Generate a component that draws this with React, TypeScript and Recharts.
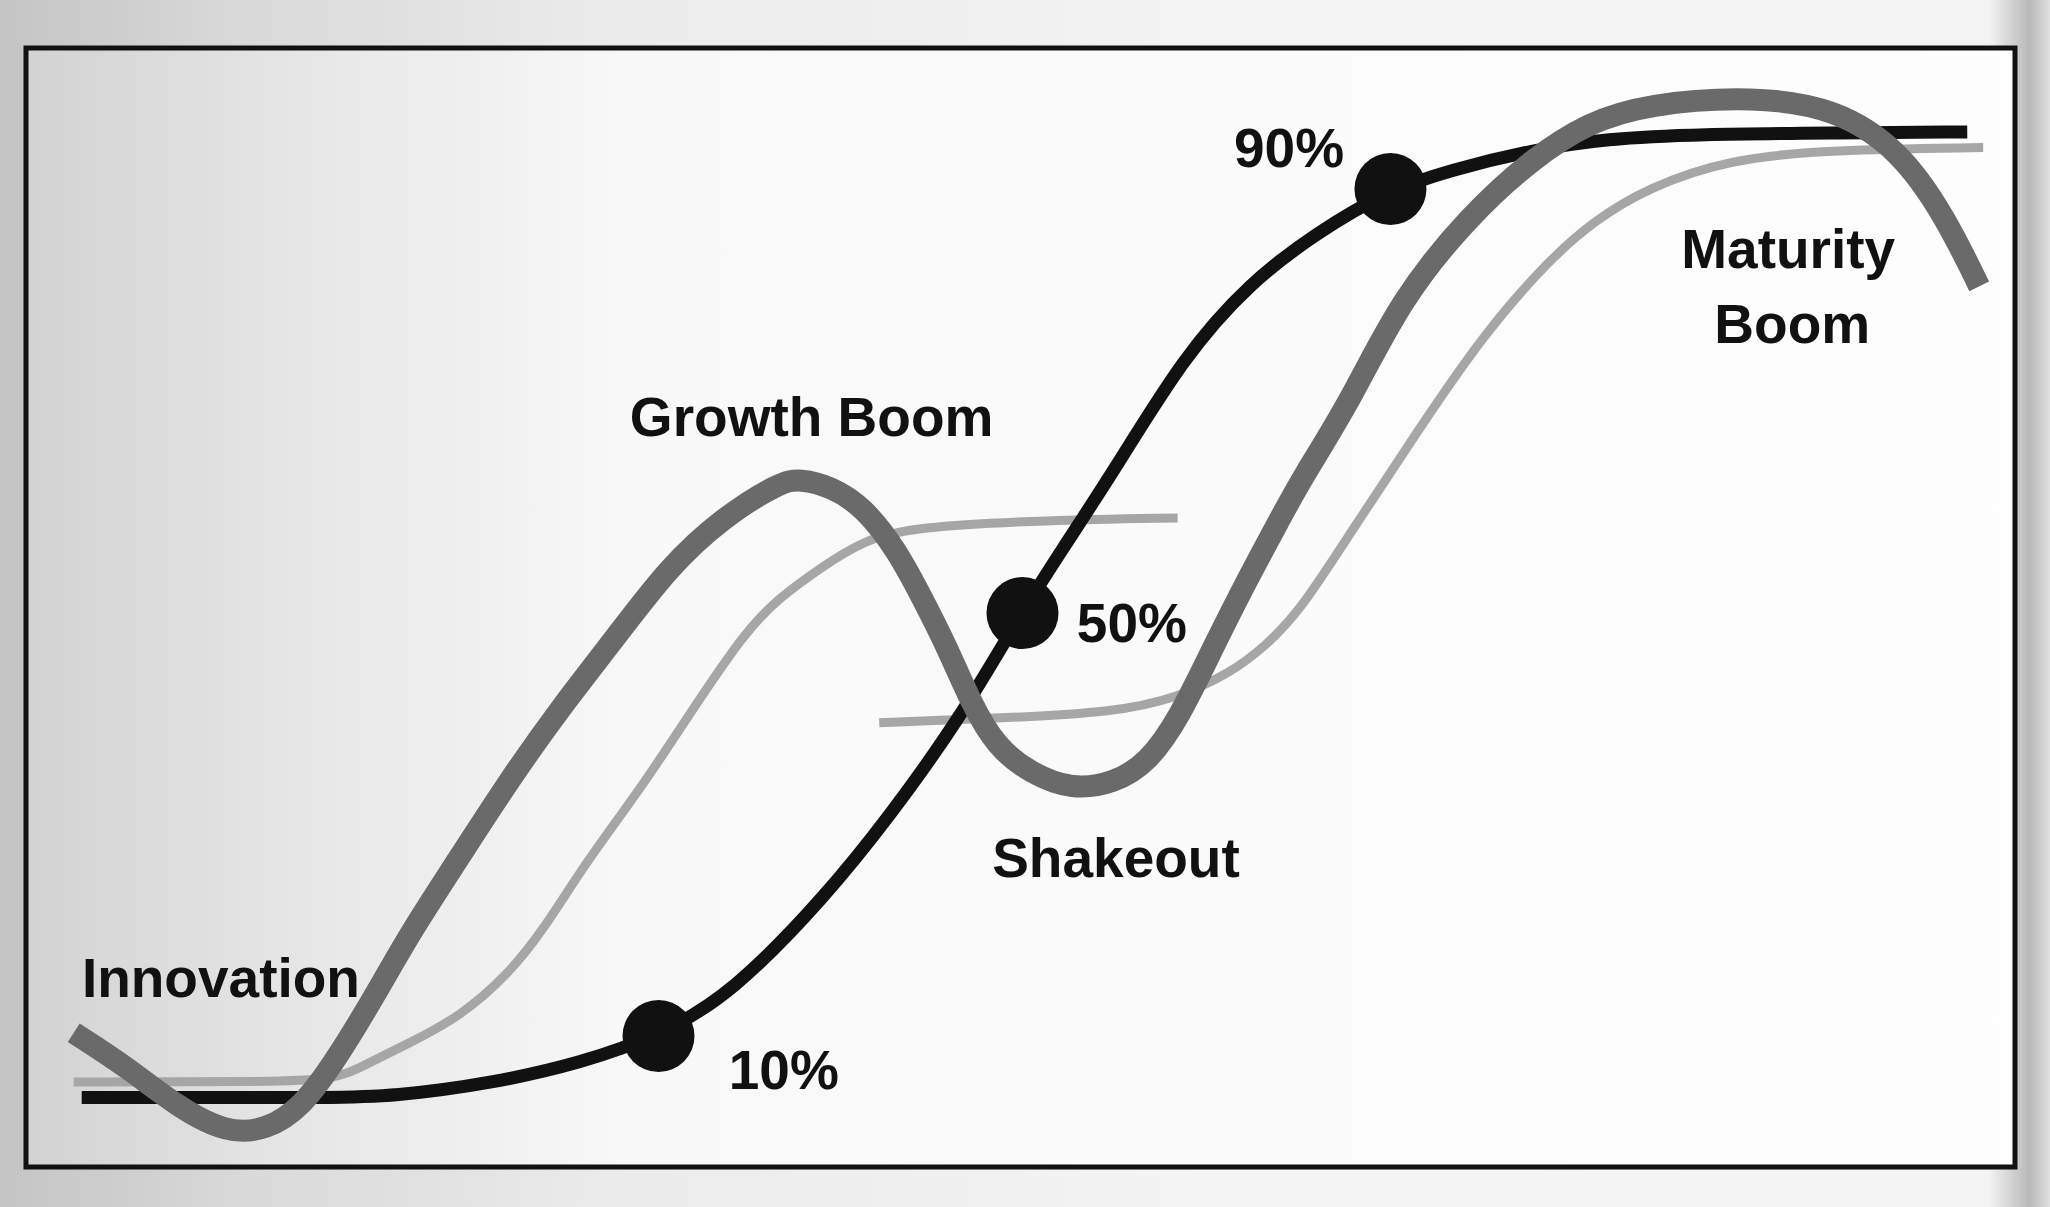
import { ComposedChart, Line, Scatter, XAxis, YAxis, ReferenceArea } from 'recharts';

// x: time across the frame (0-100), y: level (0-100, bottom to top)
const adoptionCurve = [
  [2.8, 6.2], [10.0, 6.2], [15.0, 6.2], [18.5, 6.3], [23.5, 7.5], [27.9, 9.3],
  [31.8, 11.7], [35.5, 15.5], [40.2, 24.2], [43.4, 31.3], [47.0, 40.2], [50.0, 49.4],
  [52.1, 55.2], [54.8, 62.5], [58.2, 72.4], [61.5, 79.0], [64.9, 83.5], [68.4, 87.2],
  [71.6, 89.1], [75.8, 90.9], [79.4, 91.9], [84.2, 92.3], [90.7, 92.4], [97.6, 92.5],
];

const boomBustWave = [
  [2.4, 12.0], [5.1, 8.9], [7.6, 5.4], [10.1, 3.0], [12.1, 3.3], [13.9, 5.4],
  [15.6, 9.6], [17.7, 15.8], [19.3, 20.9], [21.8, 27.7], [24.3, 34.6], [26.9, 41.1],
  [29.5, 47.0], [32.3, 53.6], [35.0, 58.0], [37.9, 61.2], [38.9, 61.5], [40.5, 60.8],
  [42.1, 59.0], [43.8, 55.1], [45.1, 50.7], [46.3, 46.5], [47.5, 41.5], [48.8, 37.5],
  [50.5, 35.2], [52.6, 33.7], [54.7, 34.3], [56.4, 36.1], [58.0, 40.2], [59.7, 46.5],
  [61.4, 52.5], [63.1, 58.1], [64.1, 61.4], [66.6, 68.5], [69.1, 77.5], [72.5, 84.9],
  [75.8, 90.2], [78.5, 93.3], [81.5, 95.0], [86.9, 95.7], [91.0, 94.6], [94.2, 90.9],
  [96.5, 84.9], [98.2, 78.7],
];

const firstWave = [
  [2.4, 7.6], [12.0, 7.6], [15.5, 7.8], [16.8, 8.9], [19.3, 11.1], [21.8, 13.4],
  [24.3, 17.3], [26.0, 21.2], [27.9, 26.5], [29.6, 30.7], [31.3, 34.9], [33.0, 39.5],
  [36.2, 48.0], [37.9, 50.9], [40.0, 53.6], [42.1, 56.0], [44.6, 57.2], [51.3, 57.8],
  [57.9, 58.0],
];

const secondWave = [
  [42.9, 39.7], [48.7, 40.1], [54.7, 40.6], [58.0, 42.0], [60.5, 44.1], [62.3, 46.5],
  [64.1, 49.8], [66.6, 56.7], [69.9, 65.6], [73.3, 74.5], [76.6, 81.1], [78.8, 84.5],
  [81.5, 87.5], [85.7, 90.1], [90.7, 90.9], [98.4, 91.1],
];

const milestones = [
  [31.8, 11.7, '10%'],
  [50.1, 49.5, '50%'],
  [68.6, 87.4, '90%'],
];

const stageLabels = [
  [9.8, 15.2, 'Innovation'],
  [39.5, 65.3, 'Growth Boom'],
  [54.8, 25.9, 'Shakeout'],
  [88.6, 80.3, 'Maturity'],
  [88.8, 73.6, 'Boom'],
];

const milestoneLabels = [
  [38.1, 7.0, '10%'],
  [55.6, 46.9, '50%'],
  [63.5, 89.4, '90%'],
];

const toPoints = (rows: (number | string)[][]) =>
  rows.map(([x, y, text]) => ({ x: x as number, y: y as number, text: text as string }));

const FONT = '"Liberation Sans", Arial, sans-serif';

const renderDot = (p: any) => <circle cx={p.cx} cy={p.cy} r={36} fill="#111" />;

const renderText = (p: any) => (
  <text
    x={p.cx}
    y={p.cy}
    textAnchor="middle"
    fontFamily={FONT}
    fontWeight="bold"
    fontSize={55}
    fill="#111"
  >
    {p.payload.text}
  </text>
);

export default function App() {
  return (
    <div
      style={{
        position: 'absolute',
        left: 0,
        top: 0,
        width: 2050,
        height: 1207,
        background:
          'linear-gradient(90deg, #c4c4c4 0%, #d9d9d9 12%, #ebebeb 30%, #f4f4f4 60%, #f3f3f3 97%, #b9b9b9 99%, #e0e0e0 100%)',
      }}
    >
      <ComposedChart
        width={2050}
        height={1207}
        margin={{ top: 48, left: 26, right: 35, bottom: 40 }}
      >
        <defs>
          <linearGradient id="scan" x1="0" y1="0" x2="1" y2="0">
            <stop offset="0%" stopColor="#d2d2d2" />
            <stop offset="12%" stopColor="#e4e4e4" />
            <stop offset="30%" stopColor="#f8f8f8" />
            <stop offset="100%" stopColor="#fefefe" />
          </linearGradient>
        </defs>
        <XAxis type="number" dataKey="x" domain={[0, 100]} hide allowDataOverflow />
        <YAxis type="number" domain={[0, 100]} hide allowDataOverflow />
        <ReferenceArea
          x1={0}
          x2={100}
          y1={0}
          y2={100}
          fill="url(#scan)"
          fillOpacity={1}
          stroke="#111"
          strokeWidth={5}
        />
        <Line
          data={toPoints(firstWave)}
          dataKey="y"
          type="basis"
          stroke="#a6a6a6"
          strokeWidth={9}
          dot={false}
          activeDot={false}
          isAnimationActive={false}
        />
        <Line
          data={toPoints(secondWave)}
          dataKey="y"
          type="basis"
          stroke="#a6a6a6"
          strokeWidth={9}
          dot={false}
          activeDot={false}
          isAnimationActive={false}
        />
        <Line
          data={toPoints(adoptionCurve)}
          dataKey="y"
          type="basis"
          stroke="#111"
          strokeWidth={13}
          dot={false}
          activeDot={false}
          isAnimationActive={false}
        />
        <Line
          data={toPoints(boomBustWave)}
          dataKey="y"
          type="basis"
          stroke="#6a6a6a"
          strokeWidth={22}
          dot={false}
          activeDot={false}
          isAnimationActive={false}
        />
        <Scatter data={toPoints(milestones)} dataKey="y" shape={renderDot} isAnimationActive={false} />
        <Scatter data={toPoints(stageLabels)} dataKey="y" shape={renderText} isAnimationActive={false} />
        <Scatter data={toPoints(milestoneLabels)} dataKey="y" shape={renderText} isAnimationActive={false} />
      </ComposedChart>
    </div>
  );
}
